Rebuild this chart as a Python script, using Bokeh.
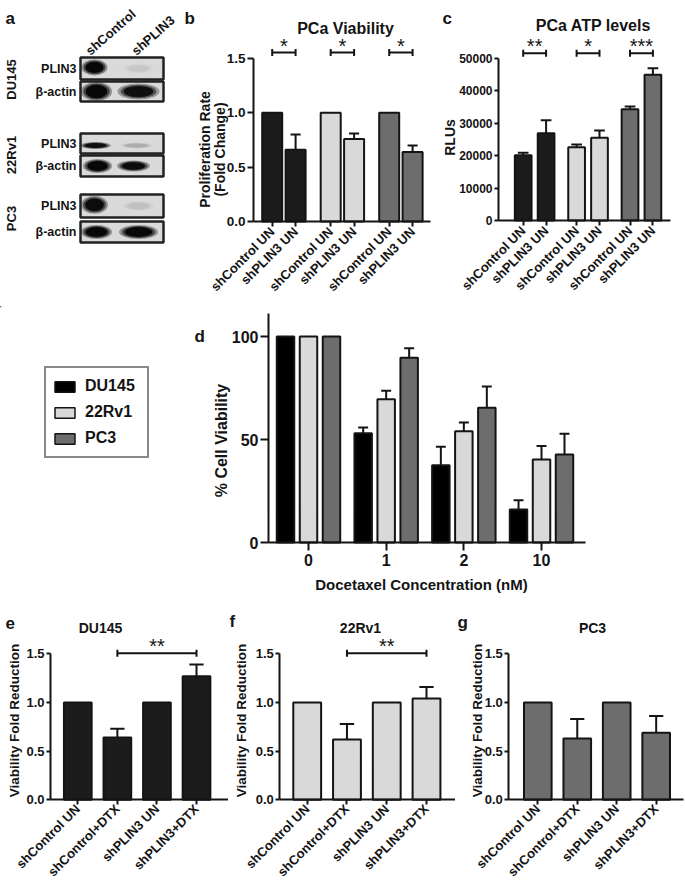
from math import pi
from bokeh.plotting import figure
from bokeh.layouts import row, column
from bokeh.models import (Range1d, Label, Legend, LegendItem, FixedTicker,
                          ColumnDataSource, PrintfTickFormatter)
from bokeh.embed import file_html
from bokeh.resources import INLINE
from bokeh.core.properties import value

FONT = "Liberation Sans"
INK = "#141414"

# ---------------- data ----------------
# panel b : PCa viability (fold change)
b_cells = ["DU145", "22Rv1", "PC3"]
b_labels = ["shControl UN", "shPLIN3 UN"]
b_values = [1.0, 0.66, 1.0, 0.76, 1.0, 0.64]
b_err = [0.0, 0.14, 0.0, 0.05, 0.0, 0.06]
b_sig = ["*", "*", "*"]
# panel c : ATP levels (RLUs)
c_values = [20100, 26900, 22600, 25500, 34300, 44900]
c_err = [800, 4000, 800, 2200, 800, 2000]
c_sig = ["**", "*", "***"]
# panel d : docetaxel dose response
d_conc = ["0", "1", "2", "10"]
d_lines = ["DU145", "22Rv1", "PC3"]
d_du145 = [100, 53.0, 37.5, 16.0]
d_du145_err = [0, 2.8, 9.0, 4.5]
d_22rv1 = [100, 69.5, 54.0, 40.3]
d_22rv1_err = [0, 4.2, 4.2, 6.6]
d_pc3 = [100, 89.7, 65.4, 42.7]
d_pc3_err = [0, 4.6, 10.3, 10.1]
# panels e, f, g : viability fold reduction
efg_labels = ["shControl UN", "shControl+DTX", "shPLIN3 UN", "shPLIN3+DTX"]
e_values = [1.0, 0.64, 1.0, 1.27]
e_err = [0, 0.09, 0, 0.12]
f_values = [1.0, 0.62, 1.0, 1.04]
f_err = [0, 0.16, 0, 0.12]
g_values = [1.0, 0.63, 1.0, 0.69]
g_err = [0, 0.20, 0, 0.17]
# panel a : western blot band intensities [cell][protein][lane]
blot_cells = ["DU145", "22Rv1", "PC3"]
blot_proteins = ["PLIN3", "β-actin"]
blot_lanes = ["shControl", "shPLIN3"]
blot_int = {"DU145": [[1.0, 0.04], [1.0, 0.9]],
            "22Rv1": [[0.9, 0.12], [1.0, 0.95]],
            "PC3": [[0.95, 0.06], [1.0, 1.0]]}

CELL_COLORS = ["#1c1c1c", "#d9d9d9", "#6d6d6d"]
D_COLORS = ["#000000", "#d9d9d9", "#6d6d6d"]


# ---------------- helpers ----------------
def plain_fig(w, h, xr, yr, axes=True):
    kw = dict(width=w, height=h, x_range=Range1d(*xr), y_range=Range1d(*yr),
              output_backend="svg", toolbar_location=None,
              min_border_left=0, min_border_right=0,
              min_border_top=0, min_border_bottom=0)
    if not axes:
        kw.update(x_axis_type=None, y_axis_type=None)
    p = figure(**kw)
    p.outline_line_color = None
    p.xgrid.visible = False
    p.ygrid.visible = False
    p.background_fill_color = "white"
    p.border_fill_color = "white"
    return p


class Panel:
    """Figure whose frame fills the canvas; axes are placed inside it."""

    def __init__(self, xl, yt, w, h, ux, x0_val, x0_px, uy, y0_px,
                 axis_left_px, axis_right_px, ytop, xsize, ysize,
                 xtick=5, xstand=3, ytick=5, ystand=2):
        self.xl, self.yt, self.w, self.h = xl, yt, w, h
        xr = (x0_val - (x0_px - xl) / ux, x0_val + (xl + w - x0_px) / ux)
        yr = (-(yt + h - y0_px) / uy, (y0_px - yt) / uy)
        self.p = p = plain_fig(w, h, xr, yr)
        ax_l = x0_val + (axis_left_px - x0_px) / ux
        ax_r = x0_val + (axis_right_px - x0_px) / ux
        for ax in (p.xaxis[0], p.yaxis[0]):
            ax.axis_line_width = 2
            ax.axis_line_color = INK
            ax.major_tick_line_width = 2
            ax.major_tick_line_color = INK
            ax.major_tick_in = 0
            ax.minor_tick_line_color = None
            ax.major_label_text_font = FONT
            ax.major_label_text_font_style = "bold"
            ax.major_label_text_color = INK
        xa, ya = p.xaxis[0], p.yaxis[0]
        xa.major_label_text_font_size = xsize
        ya.major_label_text_font_size = ysize
        xa.major_tick_out, xa.major_label_standoff = xtick, xstand
        ya.major_tick_out, ya.major_label_standoff = ytick, ystand
        xa.fixed_location = 0
        ya.fixed_location = ax_l
        xa.bounds = (ax_l, ax_r)
        ya.bounds = (0, ytop)

    def txt(self, x, y, text, size, angle=0.0, align="center", baseline="middle"):
        add_txt(self.p, self.xl, self.yt + self.h, x, y, text, size, angle, align, baseline)


def add_txt(p, fl, fb, x, y, text, size, angle=0.0, align="center", baseline="middle"):
    p.add_layout(Label(x=x - fl, y=fb - y, x_units="screen", y_units="screen",
                       text=text, text_font=FONT, text_font_size=f"{size}px",
                       text_font_style="bold", text_color=INK,
                       text_align=align, text_baseline=baseline, angle=angle))


def bars(p, xs, tops, errs, colors, width, cap):
    src = ColumnDataSource(dict(x=xs, top=tops, color=colors))
    p.vbar(x="x", top="top", bottom=0, width=width, source=src,
           fill_color="color", line_color=INK, line_width=2)
    ex = [x for x, e in zip(xs, errs) if e > 0]
    et = [t for t, e in zip(tops, errs) if e > 0]
    ee = [t + e for t, e in zip(tops, errs) if e > 0]
    p.segment(x0=ex, y0=et, x1=ex, y1=ee, line_color=INK, line_width=2)
    p.segment(x0=[x - cap for x in ex], y0=ee, x1=[x + cap for x in ex], y1=ee,
              line_color=INK, line_width=2)


def bracket(p, x0, x1, y, dy, stars, size=20):
    p.segment(x0=[x0], y0=[y], x1=[x1], y1=[y], line_color=INK, line_width=2)
    p.segment(x0=[x0, x1], y0=[y - dy, y - dy], x1=[x0, x1], y1=[y + dy, y + dy],
              line_color=INK, line_width=2)
    p.text(x=[(x0 + x1) / 2], y=[y], text=[stars], text_align="center",
           text_baseline="alphabetic", text_font=value(FONT),
           text_font_size=f"{size}px", text_color=INK, y_offset=-7)


def set_ticks(p, xs, labels, yticks, yfmt, rotate=True):
    p.xaxis.ticker = FixedTicker(ticks=xs)
    p.xaxis.major_label_overrides = {x: lab for x, lab in zip(xs, labels)}
    if rotate:
        p.xaxis.major_label_orientation = pi / 4
    p.yaxis.ticker = FixedTicker(ticks=yticks)
    p.yaxis.formatter = PrintfTickFormatter(format=yfmt)


# ---------------- panel a : western blot ----------------
pa = plain_fig(183, 306, (0, 183), (306, 0), axes=False)
box_top = [57, 81, 133, 155, 194, 221]
box_bot = [79, 101, 153, 176, 217, 242]
box_l, box_r = 80, 163
band_geom = [  # (x center, width, y frac, height) per lane for each strip
    [(94, 26, 0.45, 16), (138, 30, 0.5, 10)],
    [(96, 31, 0.5, 19), (138, 42, 0.5, 16)],
    [(95, 31, 0.6, 7), (136, 32, 0.6, 6)],
    [(97, 29, 0.5, 14), (133, 33, 0.5, 11)],
    [(94, 27, 0.45, 18), (138, 32, 0.5, 10)],
    [(96, 31, 0.5, 14), (138, 39, 0.5, 14)],
]
pa.quad(left=box_l, right=box_r, top=box_top, bottom=box_bot,
        fill_color="#dadada", line_color=None)
k = 0
for ci, cell in enumerate(blot_cells):
    for pi_, prot in enumerate(blot_proteins):
        for li, lane in enumerate(blot_lanes):
            inten = blot_int[cell][pi_][li]
            xc, w, fr, h = band_geom[k][li]
            yc = box_top[k] + fr * (box_bot[k] - box_top[k])
            for s, a in ((1.0, 0.35), (0.85, 0.55), (0.7, 0.95)):
                pa.ellipse(x=[xc], y=[yc], width=[w * s], height=[h * s],
                           fill_color="#050505", fill_alpha=a * inten, line_color=None)
        add_txt(pa, 0, 306, 76, (box_top[k] + box_bot[k]) / 2, prot, 12.5, align="right")
        k += 1
    add_txt(pa, 0, 306, 11, (box_top[2 * ci] + box_bot[2 * ci + 1]) / 2, cell, 13, angle=pi / 2)
pa.quad(left=box_l, right=box_r, top=box_top, bottom=box_bot,
        fill_color=None, line_color="#222222", line_width=2.5)
add_txt(pa, 0, 306, 5, 18, "a", 17, align="left", baseline="alphabetic")
add_txt(pa, 0, 306, 87, 52, blot_lanes[0], 13, angle=0.72, align="left", baseline="alphabetic")
add_txt(pa, 0, 306, 133, 52, blot_lanes[1], 13, angle=0.72, align="left", baseline="alphabetic")

# ---------------- panel b ----------------
b_x = [g * 5 + j * 2 for g in range(3) for j in range(2)]
B = Panel(183, 0, 255, 306, 11.7, 0, 271.7, 108.67, 221, 253, 430, 1.5, "13px", "13.5px",
          xtick=5, xstand=3, ytick=6, ystand=2)
pb = B.p
bars(pb, b_x, b_values, b_err, [CELL_COLORS[g] for g in range(3) for _ in range(2)], 1.71, 0.43)
for g in range(3):
    bracket(pb, b_x[2 * g], b_x[2 * g + 1], 1.555, 0.032, b_sig[g])
set_ticks(pb, b_x, [b_labels[i % 2] for i in range(len(b_x))], [0, 0.5, 1.0, 1.5], "%.1f")
B.txt(184, 18, "b", 17, align="left", baseline="alphabetic")
B.txt(345, 28, "PCa Viability", 16)
B.txt(204, 149, "Proliferation Rate", 14, angle=pi / 2)
B.txt(219, 149, "(Fold Change)", 14, angle=pi / 2)

# ---------------- panel c ----------------
c_x = [g * 7 + j * 3 for g in range(3) for j in range(2)]
C = Panel(438, 0, 247, 306, 7.63, 0, 522.7, 0.003246, 220, 498, 670, 50000, "13px", "12px",
          xtick=5, xstand=3, ytick=4, ystand=2)
pc = C.p
bars(pc, c_x, c_values, c_err, [CELL_COLORS[g] for g in range(3) for _ in range(2)], 2.19, 0.7)
for g in range(3):
    bracket(pc, c_x[2 * g], c_x[2 * g + 1], 51520, 1078, c_sig[g])
set_ticks(pc, c_x, [b_labels[i % 2] for i in range(len(c_x))],
          [0, 10000, 20000, 30000, 40000, 50000], "%d")
C.txt(442, 18, "c", 17, align="left", baseline="alphabetic")
C.txt(593, 25, "PCa ATP levels", 16)
C.txt(449, 137, "RLUs", 14, angle=pi / 2)

# ---------------- legend (row 2 left) ----------------
pl = plain_fig(180, 302, (0, 180), (608, 306), axes=False)
leg_r = [pl.vbar(x=[-1000], top=[1], width=1, fill_color=c, line_color=INK, line_width=1.5)
         for c in D_COLORS]
leg = Legend(items=[LegendItem(label=n, renderers=[r]) for n, r in zip(d_lines, leg_r)],
             location=(44, 150), orientation="vertical",
             border_line_color=INK, border_line_width=2.5,
             label_text_font=FONT, label_text_font_style="bold",
             label_text_font_size="16px", label_text_color=INK,
             glyph_width=25, glyph_height=13, label_height=24, label_width=56,
             spacing=2, padding=6, label_standoff=8, margin=0)
pl.add_layout(leg)

# ---------------- panel d ----------------
d_x = list(range(len(d_conc)))
D = Panel(180, 306, 505, 302, 77.67, 0, 308, 2.06, 542, 268, 585, 111, "16px", "16px",
          xtick=8, xstand=3, ytick=8, ystand=2)
pd = D.p
series = [(d_du145, d_du145_err), (d_22rv1, d_22rv1_err), (d_pc3, d_pc3_err)]
for si, (vals, errs) in enumerate(series):
    off = (si - 1) * 0.296
    bars(pd, [x + off for x in d_x], vals, errs, [D_COLORS[si]] * len(vals), 0.225, 0.064)
set_ticks(pd, d_x, d_conc, [0, 50, 100], "%d", rotate=False)
D.txt(194, 336, "d", 17, align="left", baseline="alphabetic")
D.txt(221, 440, "% Cell Viability", 16, angle=pi / 2)
D.txt(421, 584, "Docetaxel Concentration (nM)", 15)


# ---------------- panels e, f, g ----------------
def efg_panel(xl, w, x0_px, ux, axis_l, axis_r, vals, errs, color, letter, lx, ly,
              title, tx, yx, sig):
    P = Panel(xl, 608, w, 274, ux, 0, x0_px, 97.33, 799.3, axis_l, axis_r, 1.5,
              "13px", "13px", xtick=5, xstand=2, ytick=4, ystand=2)
    p = P.p
    xs = list(range(len(vals)))
    bars(p, xs, vals, errs, [color] * len(vals), 0.70, 0.18)
    if sig:
        bracket(p, xs[1], xs[3], 1.505, 0.036, sig)
    set_ticks(p, xs, efg_labels, [0, 0.5, 1.0, 1.5], "%.1f")
    P.txt(lx, ly, letter, 17, align="left", baseline="alphabetic")
    P.txt(tx, 627, title, 14)
    P.txt(yx, 720, "Viability Fold Reduction", 13.5, angle=pi / 2)
    return p


pe = efg_panel(0, 228, 77.3, 39.57, 50, 228, e_values, e_err, CELL_COLORS[0],
               "e", 5, 622, "DU145", 100, 14, "**")
pf = efg_panel(228, 227, 306.7, 39.77, 279.3, 455, f_values, f_err, CELL_COLORS[1],
               "f", 229, 621, "22Rv1", 360, 241, "**")
pg = efg_panel(455, 230, 537.3, 39.46, 508.3, 683, g_values, g_err, CELL_COLORS[2],
               "g", 457, 622, "PC3", 592, 477, None)

layout = column(row(pa, pb, pc), row(pl, pd), row(pe, pf, pg))
open("out.html", "w").write(file_html(layout, INLINE))
